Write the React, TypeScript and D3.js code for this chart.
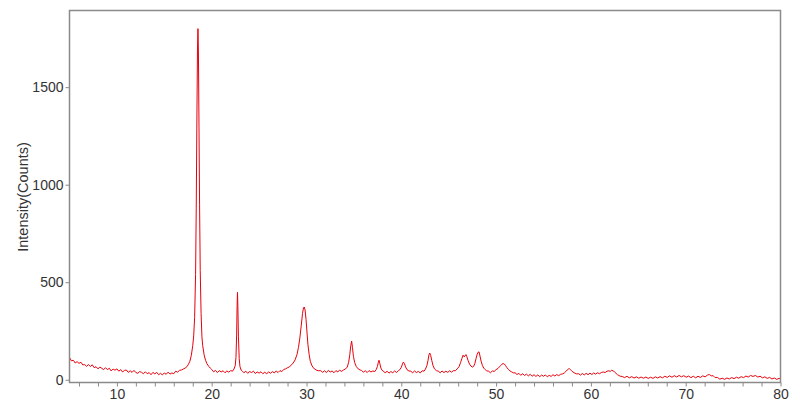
import React, { useEffect, useRef } from 'react';
import * as d3 from 'd3';

// XRD scan, 2-theta (deg) vs intensity (counts)

const lowAngle: [number, number][] = [
  [5.0, 114], [5.2, 97], [5.4, 100], [5.6, 86], [5.8, 93], [6.0, 84], [6.2, 90], [6.4, 76],
  [6.6, 78], [6.8, 69], [7.0, 78], [7.2, 68], [7.4, 77], [7.6, 62], [7.8, 67], [8.0, 56],
  [8.2, 65], [8.4, 59], [8.6, 52], [8.8, 62], [9.0, 52], [9.2, 59], [9.4, 45], [9.6, 55],
  [9.8, 49], [10.0, 56], [10.2, 44], [10.4, 52], [10.6, 40], [10.8, 48], [11.0, 50], [11.2, 38],
  [11.4, 46], [11.6, 38], [11.8, 48], [12.0, 37], [12.2, 33], [12.4, 42], [12.6, 38], [12.8, 31],
  [13.0, 41], [13.2, 31], [13.4, 37], [13.6, 26], [13.8, 38], [14.0, 30], [14.2, 38], [14.4, 26],
  [14.6, 33], [14.8, 25], [15.0, 35], [15.2, 28], [15.4, 39], [15.6, 29], [15.8, 35], [16.0, 31],
  [16.2, 44], [16.4, 39], [16.6, 48], [16.8, 50],
];

const mainPeak: [number, number][] = [
  [17.0, 55], [17.2, 60], [17.4, 68], [17.55, 80], [17.7, 95], [17.85, 125], [18.0, 175],
  [18.1, 225], [18.2, 320], [18.3, 540], [18.37, 880], [18.43, 1290], [18.5, 1690], [18.55, 1800],
  [18.6, 1680], [18.66, 1300], [18.72, 900], [18.79, 560], [18.88, 340], [18.97, 220], [19.05, 175],
  [19.2, 128], [19.35, 100], [19.5, 82], [19.7, 68], [19.85, 60],
];

const bg20: [number, number][] = [
  [20.0, 53], [20.2, 41], [20.4, 48], [20.6, 37], [20.8, 47], [21.0, 40], [21.2, 46], [21.4, 36],
  [21.6, 45], [21.8, 39], [22.0, 47], [22.2, 44],
];

const peak22: [number, number][] = [
  [22.35, 55], [22.48, 72], [22.56, 115], [22.63, 230], [22.68, 380], [22.72, 448], [22.76, 375],
  [22.82, 220], [22.9, 110], [22.98, 68], [23.1, 50],
];

const bg23: [number, number][] = [
  [23.2, 46], [23.4, 36], [23.6, 44], [23.8, 33], [24.0, 42], [24.2, 37], [24.4, 44], [24.6, 32],
  [24.8, 40], [25.0, 34], [25.2, 41], [25.4, 31], [25.6, 39], [25.8, 30], [26.0, 41], [26.2, 33],
  [26.4, 42], [26.6, 35], [26.8, 45], [27.0, 37], [27.2, 47], [27.4, 42], [27.6, 53], [27.8, 56],
];

const peak29: [number, number][] = [
  [28.0, 62], [28.2, 66], [28.4, 76], [28.6, 86], [28.8, 102], [29.0, 130], [29.15, 165],
  [29.3, 215], [29.45, 280], [29.58, 340], [29.68, 368], [29.76, 373], [29.85, 358], [29.95, 310],
  [30.05, 245], [30.15, 180], [30.28, 130], [30.4, 95], [30.55, 75], [30.7, 62], [30.9, 54],
  [31.1, 48], [31.3, 46],
];

const bg31: [number, number][] = [
  [31.5, 47], [31.7, 38], [31.9, 46], [32.1, 37], [32.3, 48], [32.5, 40], [32.7, 45], [32.9, 36],
  [33.1, 47], [33.3, 41], [33.5, 49], [33.7, 43], [33.9, 50],
];

const peak34: [number, number][] = [
  [34.1, 55], [34.3, 65], [34.45, 90], [34.57, 130], [34.67, 175], [34.76, 198], [34.85, 165],
  [34.95, 120], [35.08, 88], [35.25, 68], [35.45, 56], [35.65, 50],
];

const bg36: [number, number][] = [
  [35.8, 48], [36.0, 39], [36.2, 46], [36.4, 37], [36.6, 47], [36.8, 40], [37.0, 45], [37.2, 42],
];

const peak37: [number, number][] = [
  [37.35, 52], [37.48, 68], [37.58, 90], [37.65, 100], [37.74, 82], [37.85, 60], [37.98, 48],
];

const bg38: [number, number][] = [
  [38.1, 45], [38.3, 35], [38.5, 44], [38.7, 34], [38.9, 42], [39.1, 36], [39.3, 45], [39.5, 37],
  [39.7, 47],
];

const peak40: [number, number][] = [
  [39.85, 52], [40.0, 64], [40.12, 80], [40.22, 91], [40.32, 84], [40.45, 66], [40.6, 52], [40.8, 45],
];

const bg41: [number, number][] = [
  [41.0, 44], [41.2, 36], [41.4, 45], [41.6, 37], [41.8, 43], [42.0, 35], [42.2, 46], [42.4, 44],
];

const peak43: [number, number][] = [
  [42.55, 55], [42.7, 72], [42.82, 100], [42.92, 128], [43.0, 137], [43.1, 125], [43.22, 98],
  [43.35, 72], [43.5, 56], [43.7, 47],
];

const bg44: [number, number][] = [
  [43.9, 44], [44.1, 36], [44.3, 45], [44.5, 37], [44.7, 44], [44.9, 38], [45.1, 46], [45.3, 39],
  [45.5, 47], [45.7, 46],
];

const peaks46to48: [number, number][] = [
  [45.9, 56], [46.1, 68], [46.25, 88], [46.4, 110], [46.52, 126], [46.62, 118], [46.72, 122],
  [46.82, 129], [46.92, 118], [47.05, 98], [47.2, 80], [47.35, 70], [47.5, 65], [47.62, 68],
  [47.75, 82], [47.88, 108], [48.0, 130], [48.1, 141], [48.2, 143], [48.3, 122], [48.42, 95],
  [48.55, 74], [48.7, 60], [48.85, 52], [49.0, 46],
];

const bg49: [number, number][] = [[49.2, 44], [49.4, 36], [49.6, 45], [49.8, 43]];

const peak50: [number, number][] = [
  [50.0, 52], [50.2, 58], [50.35, 66], [50.5, 74], [50.62, 80], [50.74, 83], [50.86, 81],
  [50.98, 74], [51.12, 64], [51.28, 54], [51.45, 46], [51.65, 40], [51.85, 35],
];

const bg52: [number, number][] = [
  [52.0, 36], [52.2, 27], [52.4, 33], [52.6, 23], [52.8, 31], [53.0, 22], [53.2, 29], [53.4, 20],
  [53.6, 28], [53.8, 18], [54.0, 26], [54.2, 17], [54.4, 25], [54.6, 16], [54.8, 24], [55.0, 18],
  [55.2, 25], [55.4, 15], [55.6, 23], [55.8, 17], [56.0, 26], [56.2, 19], [56.4, 27], [56.6, 21],
  [56.8, 28],
];

const peak57: [number, number][] = [
  [57.0, 30], [57.2, 35], [57.35, 42], [57.5, 50], [57.62, 55], [57.72, 57], [57.82, 53],
  [57.95, 47], [58.1, 40], [58.3, 34], [58.5, 30],
];

const bg59: [number, number][] = [
  [58.7, 31], [58.9, 24], [59.1, 32], [59.3, 25], [59.5, 33], [59.7, 26], [59.9, 34], [60.1, 27],
  [60.3, 35], [60.5, 29], [60.7, 36], [60.9, 31], [61.1, 37],
];

const peak62: [number, number][] = [
  [61.3, 40], [61.5, 37], [61.7, 44], [61.9, 46], [62.05, 43], [62.2, 49], [62.35, 45], [62.5, 40],
  [62.65, 33], [62.8, 26], [62.95, 22], [63.1, 18],
];

const highAngle: [number, number][] = [
  [63.3, 17], [63.55, 11], [63.8, 18], [64.05, 10], [64.3, 16], [64.55, 9], [64.8, 15], [65.05, 8],
  [65.3, 14], [65.55, 8], [65.8, 14], [66.05, 7], [66.3, 13], [66.55, 7], [66.8, 15], [67.05, 9],
  [67.3, 16], [67.55, 10], [67.8, 18], [68.05, 12], [68.3, 20], [68.55, 13], [68.8, 21], [69.05, 14],
  [69.3, 22], [69.55, 15], [69.8, 21], [70.05, 13], [70.3, 19], [70.55, 11], [70.8, 18], [71.05, 10],
  [71.3, 18], [71.55, 12], [71.8, 20], [72.05, 15], [72.3, 24], [72.5, 27], [72.7, 20], [72.9, 21],
  [73.1, 11], [73.35, 12], [73.6, 3], [73.85, 8], [74.1, 2], [74.35, 9], [74.6, 4], [74.85, 11],
  [75.1, 6], [75.35, 13], [75.6, 8], [75.85, 16], [76.1, 11], [76.35, 19], [76.6, 14], [76.85, 22],
  [77.1, 17], [77.35, 22], [77.6, 14], [77.85, 18], [78.1, 10], [78.35, 15], [78.6, 7], [78.85, 12],
  [79.1, 4], [79.35, 9], [79.6, 2], [79.85, 7], [80.0, 4],
];

const xTicks = d3.range(6, 81, 2);
const xLabels = [10, 20, 30, 40, 50, 60, 70, 80];
const yTicks = [0, 500, 1000, 1500];
const yTitle = 'Intensity(Counts)';

const scan = [
  ...lowAngle, ...mainPeak, ...bg20, ...peak22, ...bg23, ...peak29, ...bg31, ...peak34,
  ...bg36, ...peak37, ...bg38, ...peak40, ...bg41, ...peak43, ...bg44, ...peaks46to48,
  ...bg49, ...peak50, ...bg52, ...peak57, ...bg59, ...peak62, ...highAngle,
];

const width = 800;
const height = 402;
const margin = { top: 10.5, right: 19.5, bottom: 19.5, left: 69.5 };
const font = 'Arial, "Liberation Sans", sans-serif';

const App = () => {
  const chartRef = useRef<SVGSVGElement>(null);

  const xScale = d3.scaleLinear().domain([5, 80]).range([margin.left, width - margin.right]);
  const yScale = d3.scaleLinear().domain([-14, 1893]).range([height - margin.bottom, margin.top]);

  useEffect(() => {
    const svg = d3.select(chartRef.current);
    svg.selectAll('*').remove();

    const line = d3.line<[number, number]>()
      .x(d => xScale(d[0]))
      .y(d => yScale(d[1]));

    svg.append('path')
      .datum(scan)
      .attr('fill', 'none')
      .attr('stroke', '#e8000b')
      .attr('stroke-width', 1)
      .attr('stroke-linejoin', 'round')
      .attr('d', line);

    // frame
    svg.append('rect')
      .attr('x', margin.left)
      .attr('y', margin.top)
      .attr('width', width - margin.left - margin.right)
      .attr('height', height - margin.top - margin.bottom)
      .attr('fill', 'none')
      .attr('stroke', '#8a8a8a')
      .attr('stroke-width', 1.5);

    const xAxis = d3.axisBottom(xScale)
      .tickValues(xTicks)
      .tickSize(4)
      .tickPadding(3)
      .tickFormat(d => (xLabels.includes(+d) ? String(d) : ''));

    const yAxis = d3.axisLeft(yScale)
      .tickValues(yTicks)
      .tickSize(4)
      .tickPadding(2)
      .tickFormat(d3.format('d'));

    const styleAxis = (g: any) => {
      g.select('.domain').remove();
      g.selectAll('line').attr('stroke', '#8a8a8a').attr('stroke-width', 1);
      g.selectAll('text')
        .attr('fill', '#333')
        .style('font-family', font)
        .style('font-size', '14px');
    };

    svg.append('g')
      .attr('transform', `translate(0, ${height - margin.bottom})`)
      .call(xAxis)
      .call(styleAxis);

    svg.append('g')
      .attr('transform', `translate(${margin.left}, 0)`)
      .call(yAxis)
      .call(styleAxis);

    svg.append('text')
      .attr('transform', 'translate(28, 197) rotate(-90)')
      .attr('text-anchor', 'middle')
      .attr('fill', '#333')
      .style('font-family', font)
      .style('font-size', '14.5px')
      .text(yTitle);
  });

  return (
    <svg
      ref={chartRef}
      width={width}
      height={height}
      viewBox={`0 0 ${width} ${height}`}
      style={{ position: 'absolute', left: 0, top: 0, background: '#fff' }}
    />
  );
};

export default App;
